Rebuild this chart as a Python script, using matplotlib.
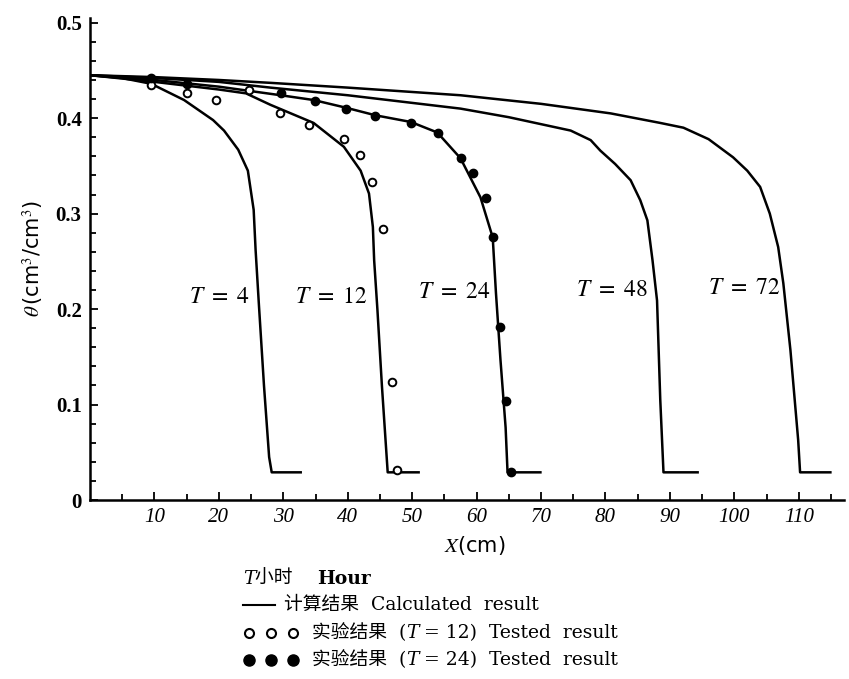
import matplotlib
matplotlib.use('Agg')
import matplotlib.pyplot as plt
from matplotlib.lines import Line2D

plt.rcParams['font.family'] = ['Liberation Serif', 'Noto Sans CJK SC']
plt.rcParams['mathtext.fontset'] = 'stix'

# calculated water content profiles, theta vs distance X (cm)
x4 = [0, 5, 9.5, 14.6, 19.1, 20.8, 23, 24.5, 25.4, 25.7, 26.2, 27, 27.8, 28.2, 32.7]
y4 = [0.445, 0.442, 0.436, 0.419, 0.398, 0.387, 0.367, 0.345, 0.304, 0.262, 0.206, 0.12, 0.045, 0.029, 0.029]

x12 = [0, 10, 20, 24.2, 28, 34.7, 39.4, 42, 43.3, 43.9, 44.1, 44.6, 45.3, 46.2, 51]
y12 = [0.445, 0.438, 0.43, 0.426, 0.414, 0.395, 0.370, 0.345, 0.321, 0.286, 0.251, 0.2, 0.12, 0.029, 0.029]

x24 = [0, 10, 20, 29.6, 34.7, 39.7, 44.3, 49.8, 53.9, 57.5, 60.6, 62.5, 63, 63.7, 64.5, 64.8, 69.9]
y24 = [0.445, 0.440, 0.433, 0.424, 0.419, 0.411, 0.403, 0.396, 0.385, 0.358, 0.317, 0.275, 0.217, 0.147, 0.076, 0.029, 0.029]

x48 = [0, 10, 20, 28, 40, 57.5, 65, 74.6, 77.7, 79.2, 81.5, 83.9, 85.4, 86.5, 87.3, 88, 88.5, 89, 94.3]
y48 = [0.445, 0.442, 0.438, 0.432, 0.424, 0.41, 0.401, 0.387, 0.377, 0.366, 0.352, 0.335, 0.314, 0.293, 0.251, 0.209, 0.105, 0.029, 0.029]

x72 = [0, 10, 20, 28, 40, 57.5, 70, 80.8, 88.5, 92.1, 96, 99.8, 102, 104, 105.5, 106.8, 107.6, 108.7, 109.9, 110.2, 114.9]
y72 = [0.445, 0.443, 0.440, 0.437, 0.432, 0.424, 0.415, 0.405, 0.395, 0.39, 0.378, 0.359, 0.345, 0.328, 0.30, 0.265, 0.227, 0.157, 0.063, 0.029, 0.029]

# measured points
x12_obs = [9.5, 15, 19.5, 24.7, 29.5, 34, 39.4, 41.9, 43.7, 45.4, 46.8, 47.7]
y12_obs = [0.435, 0.426, 0.419, 0.429, 0.405, 0.393, 0.378, 0.361, 0.333, 0.284, 0.124, 0.031]

x24_obs = [9.5, 15, 29.6, 34.9, 39.7, 44.3, 49.8, 54, 57.5, 59.5, 61.5, 62.6, 63.7, 64.6, 65.4]
y24_obs = [0.442, 0.436, 0.426, 0.418, 0.41, 0.402, 0.395, 0.384, 0.358, 0.343, 0.316, 0.275, 0.181, 0.104, 0.029]

labels = ['4', '12', '24', '48', '72']
label_pos = [(24.8, 0.212), (43.0, 0.212), (62.2, 0.217), (86.5, 0.219), (107.2, 0.222)]

fig = plt.figure(figsize=(8.49, 6.79), dpi=100)
ax = fig.add_axes([0.106, 0.2636, 0.888, 0.71])

for xs, ys in [(x4, y4), (x12, y12), (x24, y24), (x48, y48), (x72, y72)]:
    ax.plot(xs, ys, color='black', lw=1.8, solid_joinstyle='round')

ax.plot(x12_obs, y12_obs, 'o', ms=5.5, mfc='white', mec='black', mew=1.4)
ax.plot(x24_obs, y24_obs, 'o', ms=6, mfc='black', mec='black')

for lab, (lx, ly) in zip(labels, label_pos):
    ax.text(lx, ly, r'$T\ =\ %s$' % lab, ha='right', va='center', fontsize=17)

ax.set_xlim(0, 117)
ax.set_ylim(0, 0.505)
ax.set_xticks(range(10, 111, 10))
ax.set_xticks(range(5, 116, 10), minor=True)
ax.set_yticks([0, 0.1, 0.2, 0.3, 0.4, 0.5])
ax.set_yticklabels(['0', '0.1', '0.2', '0.3', '0.4', '0.5'], fontweight='bold')
ax.set_yticks([i * 0.02 for i in range(26)], minor=True)
for lbl in ax.get_xticklabels():
    lbl.set_fontstyle('italic')
ax.tick_params(axis='both', which='both', direction='in', labelsize=15, width=1.3)
ax.tick_params(axis='both', which='major', length=6, pad=6)
ax.tick_params(axis='both', which='minor', length=4)
for side in ['top', 'right']:
    ax.spines[side].set_visible(False)
for side in ['left', 'bottom']:
    ax.spines[side].set_linewidth(1.8)

ax.set_xlabel(r'$X$(cm)', fontsize=15, labelpad=2, family=['DejaVu Sans'])
ax.set_ylabel(r'$\theta\,$(cm$^3$/cm$^3$)', fontsize=15, labelpad=8, family=['DejaVu Sans'])
ax.xaxis.set_label_coords(0.51, -0.07)

# key below the plot
key_font = ['DejaVu Serif', 'Noto Sans CJK SC']
fs = 13.5


def key_line(x, y, parts):
    # parts: (text, style) pieces placed one after the other
    last = None
    for txt, style in parts:
        kw = dict(fontsize=fs, family=key_font, va='center', ha='left')
        if style == 'italic':
            kw['fontstyle'] = 'italic'
        elif style == 'bold':
            kw['fontweight'] = 'bold'
        if last is None:
            last = fig.text(x, y, txt, **kw)
        else:
            last = ax.annotate(txt, xy=(1, 0.5), xycoords=last,
                               annotation_clip=False, **kw)


key_line(0.286, 0.148, [('T', 'italic'), ('小时    ', None), ('Hour', 'bold')])
fig.add_artist(Line2D([0.286, 0.324], [0.109, 0.109], color='black', lw=1.5))
key_line(0.334, 0.109, [('计算结果  Calculated  result', None)])
for xm in [0.293, 0.319, 0.345]:
    fig.add_artist(Line2D([xm], [0.068], marker='o', ms=6.5, mfc='white', mec='black', mew=1.5))
    fig.add_artist(Line2D([xm], [0.028], marker='o', ms=8, mfc='black', mec='black'))
key_line(0.367, 0.068, [('实验结果  (', None), ('T', 'italic'), (' = 12)  Tested  result', None)])
key_line(0.367, 0.028, [('实验结果  (', None), ('T', 'italic'), (' = 24)  Tested  result', None)])

fig.savefig('out.png', dpi=100)
